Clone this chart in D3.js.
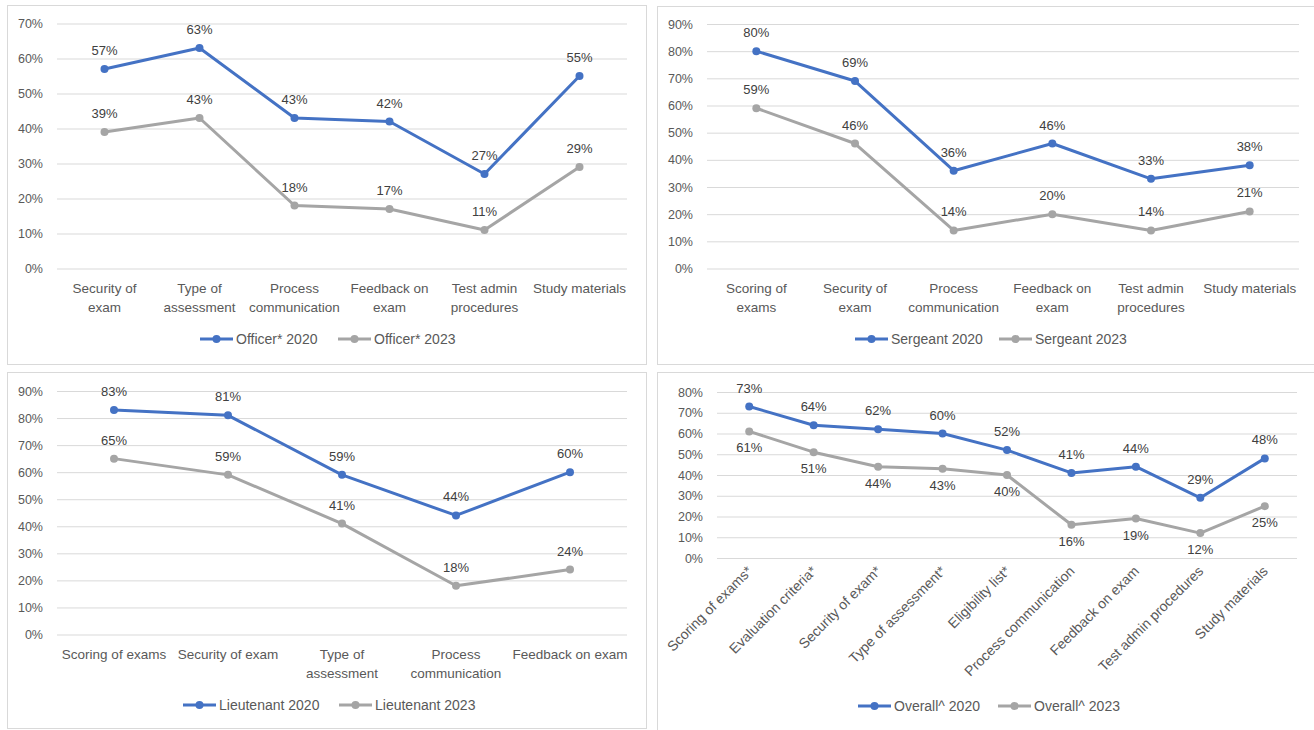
<!DOCTYPE html>
<html>
<head>
<meta charset="utf-8">
<script src="https://cdn.jsdelivr.net/npm/d3@7"></script>
<style>
  html, body { margin: 0; padding: 0; background: #ffffff; }
  svg { display: block; font-family: "Liberation Sans", Arial, sans-serif; }
</style>
</head>
<body>
<svg id="chart" width="1314" height="730"></svg>
<script>
// ---- Data ----
const officerCategories = ["Security of\nexam", "Type of\nassessment", "Process\ncommunication", "Feedback on\nexam", "Test admin\nprocedures", "Study materials"];
const officer2020 = [0.57, 0.63, 0.43, 0.42, 0.27, 0.55];
const officer2023 = [0.39, 0.43, 0.18, 0.17, 0.11, 0.29];
const officerTicks = [0, 0.1, 0.2, 0.3, 0.4, 0.5, 0.6, 0.7];

const sergeantCategories = ["Scoring of\nexams", "Security of\nexam", "Process\ncommunication", "Feedback on\nexam", "Test admin\nprocedures", "Study materials"];
const sergeant2020 = [0.80, 0.69, 0.36, 0.46, 0.33, 0.38];
const sergeant2023 = [0.59, 0.46, 0.14, 0.20, 0.14, 0.21];
const sergeantTicks = [0, 0.1, 0.2, 0.3, 0.4, 0.5, 0.6, 0.7, 0.8, 0.9];

const lieutenantCategories = ["Scoring of exams", "Security of exam", "Type of\nassessment", "Process\ncommunication", "Feedback on exam"];
const lieutenant2020 = [0.83, 0.81, 0.59, 0.44, 0.60];
const lieutenant2023 = [0.65, 0.59, 0.41, 0.18, 0.24];
const lieutenantTicks = [0, 0.1, 0.2, 0.3, 0.4, 0.5, 0.6, 0.7, 0.8, 0.9];

const overallCategories = ["Scoring of exams*", "Evaluation criteria*", "Security of exam*", "Type of assessment*", "Eligibility list*", "Process communication", "Feedback on exam", "Test admin procedures", "Study materials"];
const overall2020 = [0.73, 0.64, 0.62, 0.60, 0.52, 0.41, 0.44, 0.29, 0.48];
const overall2023 = [0.61, 0.51, 0.44, 0.43, 0.40, 0.16, 0.19, 0.12, 0.25];
const overallTicks = [0, 0.1, 0.2, 0.3, 0.4, 0.5, 0.6, 0.7, 0.8];

// ---- Styling ----
const BLUE = "#4472C4";
const GRAY = "#A5A5A5";
const AXIS_TEXT = "#595959";
const LABEL_TEXT = "#404040";
const GRID = "#D9D9D9";

const svg = d3.select("#chart");
const pct = d3.format(".0%");

function drawPanel(cfg) {
  const g = svg.append("g");

  // panel frame
  g.append("rect")
    .attr("x", cfg.frame[0] + 0.5).attr("y", cfg.frame[1] + 0.5)
    .attr("width", cfg.frame[2]).attr("height", cfg.frame[3])
    .attr("fill", "#fff").attr("stroke", GRID).attr("stroke-width", 1);

  const x = d3.scalePoint()
    .domain(cfg.categories)
    .range([cfg.plot.left, cfg.plot.right])
    .padding(0.5);
  const y = d3.scaleLinear()
    .domain([0, d3.max(cfg.ticks)])
    .range([cfg.plot.bottom, cfg.plot.top]);

  // gridlines + y tick labels
  const yAxis = d3.axisLeft(y)
    .tickValues(cfg.ticks)
    .tickFormat(pct)
    .tickSize(-(cfg.plot.right - cfg.plot.left))
    .tickPadding(14);
  const ya = g.append("g")
    .attr("transform", `translate(${cfg.plot.left},0)`)
    .call(yAxis);
  ya.select(".domain").remove();
  ya.selectAll(".tick line").attr("stroke", GRID).attr("stroke-width", 1);
  ya.selectAll(".tick text")
    .attr("fill", AXIS_TEXT)
    .style("font-size", "12.5px");

  // category labels
  const xa = g.append("g");
  if (cfg.rotate) {
    xa.selectAll("text")
      .data(cfg.categories)
      .join("text")
      .attr("transform", d => `translate(${x(d) + 4},${cfg.plot.bottom + 14}) rotate(-45)`)
      .attr("text-anchor", "end")
      .attr("fill", AXIS_TEXT)
      .style("font-size", "14px")
      .text(d => d);
  } else {
    const t = xa.selectAll("text")
      .data(cfg.categories)
      .join("text")
      .attr("text-anchor", "middle")
      .attr("fill", AXIS_TEXT)
      .style("font-size", "13.5px");
    t.each(function (d) {
      const lines = d.split("\n");
      d3.select(this).selectAll("tspan")
        .data(lines)
        .join("tspan")
        .attr("x", x(d))
        .attr("y", (l, i) => cfg.plot.bottom + 24 + i * 19)
        .text(l => l);
    });
  }

  // series lines, markers and value labels
  const line = d3.line()
    .x((v, i) => x(cfg.categories[i]))
    .y(v => y(v));

  cfg.series.forEach(s => {
    g.append("path")
      .datum(s.values)
      .attr("d", line)
      .attr("fill", "none")
      .attr("stroke", s.color)
      .attr("stroke-width", 3)
      .attr("stroke-linejoin", "round")
      .attr("stroke-linecap", "round");
  });
  cfg.series.forEach(s => {
    g.append("g").selectAll("circle")
      .data(s.values)
      .join("circle")
      .attr("cx", (v, i) => x(cfg.categories[i]))
      .attr("cy", v => y(v))
      .attr("r", 4)
      .attr("fill", s.color);
    g.append("g").selectAll("text")
      .data(s.values)
      .join("text")
      .attr("x", (v, i) => x(cfg.categories[i]))
      .attr("y", v => s.below ? y(v) + 21 : y(v) - 14)
      .attr("text-anchor", "middle")
      .attr("fill", LABEL_TEXT)
      .style("font-size", "13px")
      .text(v => pct(v));
  });

  // legend
  const leg = g.append("g");
  cfg.series.forEach((s, i) => {
    const lx = cfg.legend[i];
    const ly = cfg.legendY;
    leg.append("line")
      .attr("x1", lx).attr("x2", lx + 33)
      .attr("y1", ly).attr("y2", ly)
      .attr("stroke", s.color).attr("stroke-width", 3);
    leg.append("circle")
      .attr("cx", lx + 16.5).attr("cy", ly).attr("r", 4)
      .attr("fill", s.color);
    leg.append("text")
      .attr("x", lx + 36).attr("y", ly + 5)
      .attr("fill", AXIS_TEXT)
      .style("font-size", "14px")
      .text(s.name);
  });
}

drawPanel({
  frame: [7, 5, 639, 359],
  plot: { left: 57, right: 627, top: 23.5, bottom: 268.5 },
  categories: officerCategories,
  ticks: officerTicks,
  series: [
    { name: "Officer* 2020", values: officer2020, color: BLUE },
    { name: "Officer* 2023", values: officer2023, color: GRAY }
  ],
  legend: [200, 338], legendY: 339
});

drawPanel({
  frame: [657, 6, 660, 358],
  plot: { left: 707, right: 1299, top: 24, bottom: 268.5 },
  categories: sergeantCategories,
  ticks: sergeantTicks,
  series: [
    { name: "Sergeant 2020", values: sergeant2020, color: BLUE },
    { name: "Sergeant 2023", values: sergeant2023, color: GRAY }
  ],
  legend: [855, 999], legendY: 339
});

drawPanel({
  frame: [7, 372, 639, 356],
  plot: { left: 57, right: 627, top: 391, bottom: 634.5 },
  categories: lieutenantCategories,
  ticks: lieutenantTicks,
  series: [
    { name: "Lieutenant 2020", values: lieutenant2020, color: BLUE },
    { name: "Lieutenant 2023", values: lieutenant2023, color: GRAY }
  ],
  legend: [183, 339], legendY: 705
});

drawPanel({
  frame: [657, 372, 660, 362],
  plot: { left: 717, right: 1297, top: 392, bottom: 558 },
  categories: overallCategories,
  ticks: overallTicks,
  rotate: true,
  series: [
    { name: "Overall^ 2020", values: overall2020, color: BLUE },
    { name: "Overall^ 2023", values: overall2023, color: GRAY, below: true }
  ],
  legend: [858, 998], legendY: 706
});
</script>
</body>
</html>
